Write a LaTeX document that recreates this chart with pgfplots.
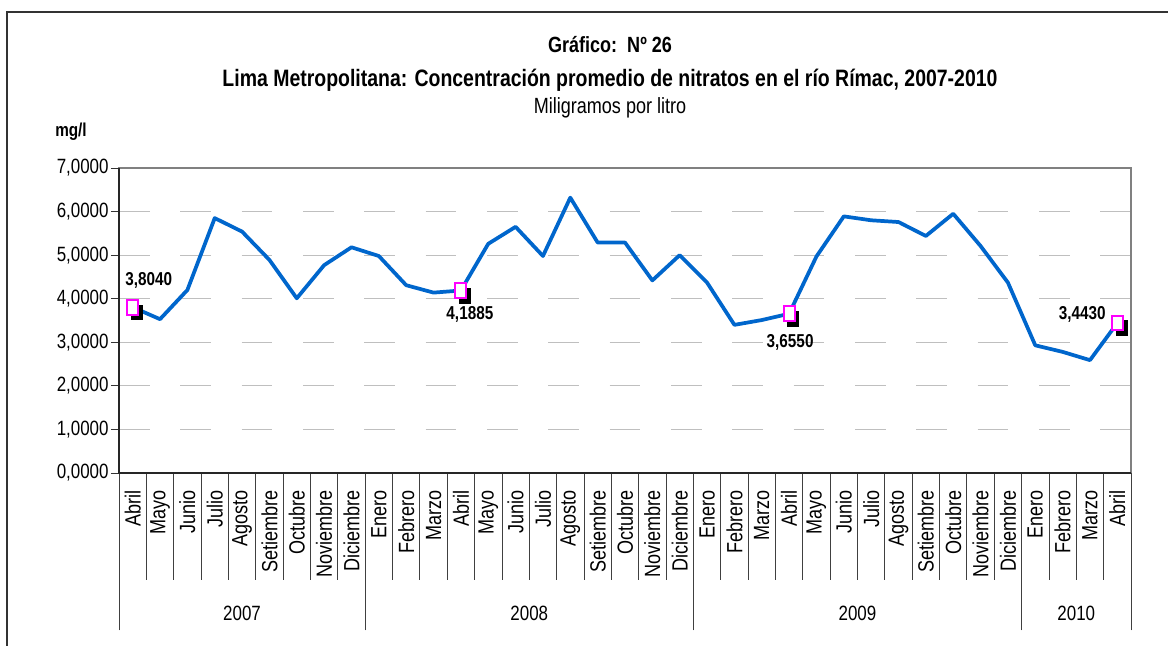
\documentclass[border=0pt]{standalone}
\usepackage{fontspec}
\setmainfont{Liberation Sans}[FakeStretch=0.82]
\usepackage{pgfplots}
\pgfplotsset{compat=1.18}
\definecolor{lineblue}{HTML}{0066CC}
\definecolor{mag}{HTML}{FF00FF}
\pgfplotstableread{
x y
0 3.804
1 3.53
2 4.20
3 5.85
4 5.54
5 4.89
6 4.01
7 4.77
8 5.18
9 4.98
10 4.31
11 4.14
12 4.1885
13 5.26
14 5.65
15 4.98
16 6.32
17 5.29
18 5.29
19 4.42
20 5.00
21 4.37
22 3.40
23 3.51
24 3.655
25 4.97
26 5.89
27 5.80
28 5.76
29 5.44
30 5.95
31 5.21
32 4.37
33 2.93
34 2.78
35 2.59
36 3.443
}\datatable
\begin{document}
\begin{tikzpicture}
\useasboundingbox (0,0) rectangle (876pt,484.5pt);
\draw[black!80, line width=0.8pt] (5.25pt,-5pt) -- (5.25pt,475.5pt) -- (880pt,475.5pt);
\begin{axis}[
  at={(89.25pt,129.75pt)}, anchor=south west,
  scale only axis, width=759pt, height=228.75pt,
  clip=false,
  xmin=-0.5, xmax=36.5, ymin=0, ymax=7,
  ytick={0,1,...,7},
  yticklabels={{0,0000},{1,0000},{2,0000},{3,0000},{4,0000},{5,0000},{6,0000},{7,0000}},
  xtick={-0.5,0.5,...,36.5},
  x tick label as interval,
  xticklabels={Abril,Mayo,Junio,Julio,Agosto,Setiembre,Octubre,Noviembre,Diciembre,
    Enero,Febrero,Marzo,Abril,Mayo,Junio,Julio,Agosto,Setiembre,Octubre,Noviembre,Diciembre,
    Enero,Febrero,Marzo,Abril,Mayo,Junio,Julio,Agosto,Setiembre,Octubre,Noviembre,Diciembre,
    Enero,Febrero,Marzo,Abril},
  extra x ticks={-0.5,8.5,20.5,32.5,36.5},
  extra x tick labels={},
  extra x tick style={xtick style={/pgfplots/major tick length=118pt}},
  tick align=outside, xtick pos=bottom, ytick pos=left,
  xtick style={/pgfplots/major tick length=80pt, black!75, line width=0.6pt},
  ytick style={/pgfplots/major tick length=6pt, black!80, line width=0.6pt},
  ymajorgrids,
  major grid style={draw=black!25, line width=0.7pt, dash pattern=on 23pt off 23pt},
  axis line style={draw=black!50, line width=1.2pt},
  x tick label style={rotate=90, anchor=east, font=\fontsize{16.5}{16.5}\selectfont, xshift=-5pt},
  y tick label style={font=\fontsize{15.5}{15.5}\selectfont},
]
\addplot[lineblue, line width=2.8pt, line join=round, no marks] table[x=x,y=y] {\datatable};
\addplot[only marks, mark=square*, mark size=5.5pt,
  mark options={xshift=3pt, yshift=-3.75pt, xscale=0.75, fill=black, draw=black}]
  coordinates {(0,3.804) (12,4.1885) (24,3.655) (36,3.443)};
\addplot[only marks, mark=square*, mark size=5.5pt,
  mark options={xscale=0.75, fill=white, draw=mag, line width=1.5pt}]
  coordinates {(0,3.804) (12,4.1885) (24,3.655) (36,3.443)};
\draw[black!85, line width=0.9pt] (rel axis cs:0,1) -- (rel axis cs:0,0) -- (rel axis cs:1,0);
\begin{scope}[font=\bfseries\fontsize{14}{14}\selectfont]
\node at (axis cs:0,3.804) [xshift=12pt, yshift=20.25pt] {3,8040};
\node at (axis cs:12,4.1885) [xshift=6.75pt, yshift=-18pt] {4,1885};
\node at (axis cs:24,3.655) [xshift=0.75pt, yshift=-21.75pt] {3,6550};
\node at (axis cs:36,3.443) [xshift=-26.25pt, yshift=6.75pt] {3,4430};
\end{scope}
\begin{scope}[font=\fontsize{15.5}{15.5}\selectfont]
\node at (axis cs:4,0) [yshift=-105pt] {2007};
\node at (axis cs:14.5,0) [yshift=-105pt] {2008};
\node at (axis cs:26.5,0) [yshift=-105pt] {2009};
\node at (axis cs:34.5,0) [yshift=-105pt] {2010};
\end{scope}
\end{axis}
\node[font=\bfseries\fontsize{16.5}{16.5}\selectfont] at (457.5pt,450.75pt) {Gráfico:\ \ Nº 26};
\node[font=\bfseries\fontsize{17.8}{17.8}\selectfont] at (457.5pt,424.5pt) {Lima Metropolitana: Concentración promedio de nitratos en el río Rímac, 2007-2010};
\node[font=\fontsize{16.5}{16.5}\selectfont] at (457.5pt,403.5pt) {Miligramos por litro};
\node[font=\bfseries\fontsize{14}{14}\selectfont] at (53.25pt,385.5pt) {mg/l};
\end{tikzpicture}
\end{document}
